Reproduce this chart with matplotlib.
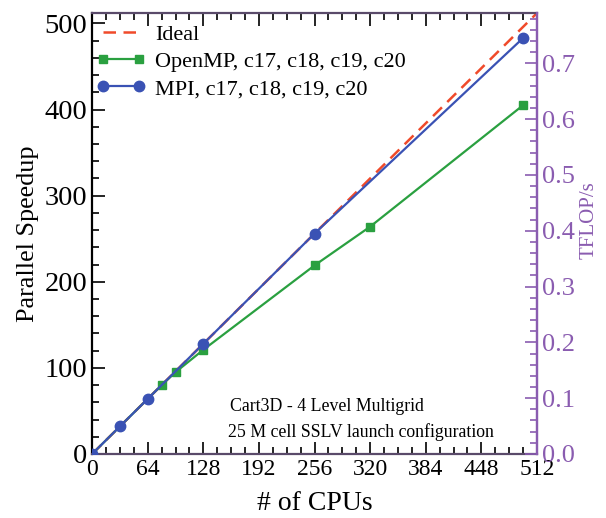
import matplotlib.pyplot as plt
import numpy as np
from matplotlib.ticker import MultipleLocator

plt.rcParams['font.family'] = ['Liberation Serif', 'DejaVu Serif']

ideal_cpus = [0, 512]
ideal_speedup = [0, 512]

omp_cpus = [0, 80, 96, 128, 256, 320, 496]
omp_speedup = [0, 80, 95, 121, 219, 264, 405]

mpi_cpus = [0, 32, 64, 128, 256, 496]
mpi_speedup = [0, 32, 64, 128, 256, 483]

x_ticks = [0, 64, 128, 192, 256, 320, 384, 448, 512]
tflop_ticks = [0.0, 0.1, 0.2, 0.3, 0.4, 0.5, 0.6, 0.7]
tflop_per_speedup = 0.7 / 453.7

purple = '#8a5cb0'
spine_dark = '#5a4a6a'


def main():
    fig = plt.figure(figsize=(6.06, 5.18), dpi=100)
    ax = fig.add_axes([0.152, 0.1236, 0.734, 0.851])

    ax.plot(ideal_cpus, ideal_speedup, color='#f04a2a', ls=(0, (5, 3)), lw=1.8,
            label='Ideal', zorder=2)
    ax.plot(omp_cpus, omp_speedup, color='#2aa040', marker='s', ms=6, lw=1.6,
            label='OpenMP, c17, c18, c19, c20', zorder=3)
    ax.plot(mpi_cpus, mpi_speedup, color='#3a52b4', marker='o', ms=7.5, lw=1.6,
            label='MPI, c17, c18, c19, c20', zorder=4)

    ax.set_xlim(0, 512)
    ax.set_ylim(0, 512)
    ax.set_xticks(x_ticks)
    ax.xaxis.set_minor_locator(MultipleLocator(16))
    ax.set_yticks(range(0, 501, 100))
    ax.yaxis.set_minor_locator(MultipleLocator(20))
    ax.tick_params(which='both', direction='in', top=True, right=False,
                   width=1.2)
    ax.tick_params(axis='x', labelsize=17)
    ax.tick_params(axis='y', labelsize=20.5)
    ax.tick_params(which='major', length=9)
    ax.tick_params(which='minor', length=5)
    ax.set_xlabel('# of CPUs', fontsize=20, labelpad=8)
    ax.set_ylabel('Parallel Speedup', fontsize=18.8, labelpad=4)

    for side in ('top', 'bottom'):
        ax.spines[side].set_color(spine_dark)
    ax.spines['right'].set_color(purple)
    for s in ax.spines.values():
        s.set_linewidth(1.6)

    ax2 = ax.twinx()
    ax2.set_ylim(0, 512 * tflop_per_speedup)
    ax2.set_yticks(tflop_ticks)
    ax2.yaxis.set_minor_locator(MultipleLocator(0.02))
    ax2.tick_params(which='both', direction='in', colors=purple,
                    labelsize=19, width=1.2)
    ax2.tick_params(which='major', length=9)
    ax2.tick_params(which='minor', length=5)
    ax2.set_yticklabels([f'{v:.1f}' for v in tflop_ticks])
    ax2.set_ylabel('TFLOP/s', color=purple, fontsize=15)
    ax2.yaxis.set_label_coords(1.095, 0.53)
    ax2.spines['right'].set_color(purple)
    ax2.spines['right'].set_linewidth(1.6)
    for side in ('top', 'bottom', 'left'):
        ax2.spines[side].set_visible(False)

    ax.legend(loc='upper left', frameon=False, fontsize=16, numpoints=2,
              handlelength=2.2, handletextpad=0.45, labelspacing=0.3,
              borderaxespad=0.1, bbox_to_anchor=(-0.015, 1.0))

    ax.text(0.31, 0.107, 'Cart3D - 4 Level Multigrid', transform=ax.transAxes,
            fontsize=12.8, va='center')
    ax.text(0.305, 0.05, '25 M cell SSLV launch configuration',
            transform=ax.transAxes, fontsize=12.8, va='center')

    fig.savefig('out.png', dpi=100)


if __name__ == "__main__":
    main()
